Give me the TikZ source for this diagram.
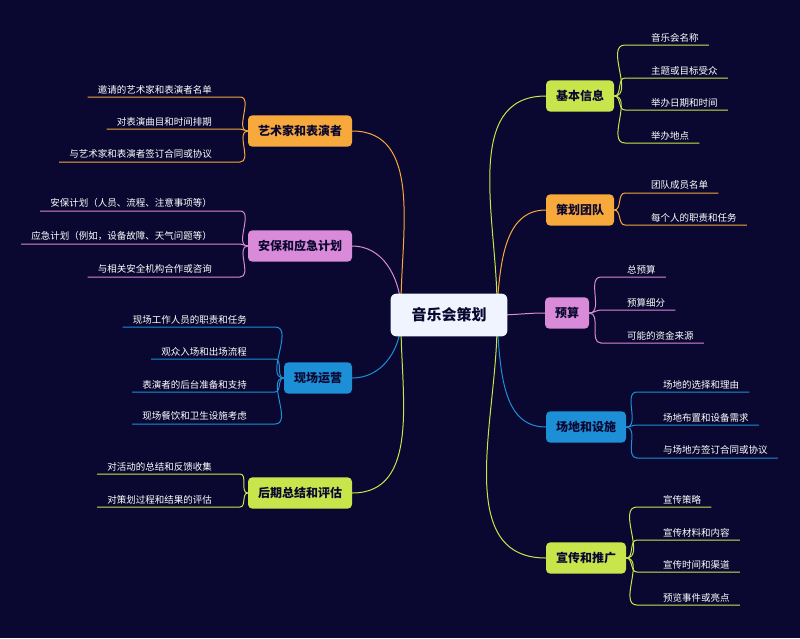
\documentclass[tikz,border=0pt]{standalone}
\usepackage{fontspec}
\setmainfont{Noto Sans CJK SC}
\definecolor{mapBg}{HTML}{0A0830}
\definecolor{mapCore}{HTML}{F0F4FF}
\definecolor{mapLime}{HTML}{C8E64C}
\definecolor{mapOrange}{HTML}{F8A93B}
\definecolor{mapPink}{HTML}{D98AD8}
\definecolor{mapBlue}{HTML}{1C8FD6}
\usetikzlibrary{positioning,calc,backgrounds}
\tikzset{
    core/.style={
        fill=mapCore,
        rectangle,
        rounded corners=2mm,
        minimum height=1.5cm,
        minimum width=4.1cm,
        font=\fontsize{15}{17}\selectfont\bfseries,
        text=mapBg
    },
    topic/.style={
        rectangle,
        rounded corners=1.5mm,
        minimum height=1.1cm,
        inner xsep=10pt,
        font=\fontsize{12}{14}\selectfont\bfseries,
        text=mapBg
    },
    leaf/.style={
        inner xsep=10pt,
        inner ysep=3pt,
        font=\fontsize{9.5}{11}\selectfont,
        text=white
    },
    link/.style={line width=1pt}
}
\begin{document}
\begin{tikzpicture}[x=1pt,y=-1pt]
    % Central topic
    \node[core] (plan) at (449,315) {音乐会策划};

    % Right topics
    \node[topic, fill=mapLime] (info) at (580,96) {基本信息};
    \node[topic, fill=mapOrange] (team) at (580,210) {策划团队};
    \node[topic, fill=mapPink] (budget) at (567,313) {预算};
    \node[topic, fill=mapBlue] (venue) at (586,427) {场地和设施};
    \node[topic, fill=mapLime] (promo) at (586,558) {宣传和推广};

    % Left topics
    \node[topic, fill=mapOrange] (artist) at (300,131) {艺术家和表演者};
    \node[topic, fill=mapPink] (safety) at (300,246) {安保和应急计划};
    \node[topic, fill=mapBlue] (onsite) at (318,378) {现场运营};
    \node[topic, fill=mapLime] (review) at (300,493) {后期总结和评估};

    % Links from the central topic
    \begin{scope}[on background layer]
    \fill[mapBg] (0,0) rectangle (800,638);
    \draw[link, mapLime] (497,305) to[out=90, in=180] (info.west);
    \draw[link, mapOrange] (497,305) to[out=85, in=180] (team.west);
    \draw[link, mapPink] (497,315) to[out=0, in=180] (budget.west);
    \draw[link, mapBlue] (497,325) to[out=-85, in=180] (venue.west);
    \draw[link, mapLime] (497,325) to[out=-90, in=180] (promo.west);
    \draw[link, mapOrange] (401,305) to[out=90, in=0] (artist.east);
    \draw[link, mapPink] (401,305) to[out=95, in=0] (safety.east);
    \draw[link, mapBlue] (401,325) to[out=-95, in=0] (onsite.east);
    \draw[link, mapLime] (401,325) to[out=-90, in=0] (review.east);
    \end{scope}

    % Right leaves
    \foreach \y/\t [count=\i] in {36/音乐会名称, 69/主题或目标受众, 101/举办日期和时间, 134/举办地点} {
        \node[leaf, anchor=south west] (info\i) at (641,\y+9) {\t};
        \draw[link, mapLime] (info.east) to[out=0, in=180] ($(info\i.south west)+(-16,0)$) -- (info\i.south east);
    }
    \foreach \y/\t [count=\i] in {184/团队成员名单, 216/每个人的职责和任务} {
        \node[leaf, anchor=south west] (team\i) at (641,\y+9) {\t};
        \draw[link, mapOrange] (team.east) to[out=0, in=180] ($(team\i.south west)+(-16,0)$) -- (team\i.south east);
    }
    \foreach \y/\t [count=\i] in {268/总预算, 301/预算细分, 334/可能的资金来源} {
        \node[leaf, anchor=south west] (budget\i) at (617,\y+9) {\t};
        \draw[link, mapPink] (budget.east) to[out=0, in=180] ($(budget\i.south west)+(-16,0)$) -- (budget\i.south east);
    }
    \foreach \y/\t [count=\i] in {383/场地的选择和理由, 416/场地布置和设备需求, 449/与场地方签订合同或协议} {
        \node[leaf, anchor=south west] (venue\i) at (653,\y+9) {\t};
        \draw[link, mapBlue] (venue.east) to[out=0, in=180] ($(venue\i.south west)+(-16,0)$) -- (venue\i.south east);
    }
    \foreach \y/\t [count=\i] in {498/宣传策略, 531/宣传材料和内容, 563/宣传时间和渠道, 596/预览事件或亮点} {
        \node[leaf, anchor=south west] (promo\i) at (653,\y+9) {\t};
        \draw[link, mapLime] (promo.east) to[out=0, in=180] ($(promo\i.south west)+(-16,0)$) -- (promo\i.south east);
    }

    % Left leaves
    \foreach \y/\t [count=\i] in {88/邀请的艺术家和表演者名单, 120/对表演曲目和时间排期, 153/与艺术家和表演者签订合同或协议} {
        \node[leaf, anchor=south east] (artist\i) at (222,\y+9) {\t};
        \draw[link, mapOrange] (artist.west) to[out=180, in=0] ($(artist\i.south east)+(18,0)$) -- (artist\i.south west);
    }
    \foreach \y/\t [count=\i] in {202/安保计划（人员、流程、注意事项等）, 235/应急计划（例如，设备故障、天气问题等）, 268/与相关安全机构合作或咨询} {
        \node[leaf, anchor=south east] (safety\i) at (222,\y+9) {\t};
        \draw[link, mapPink] (safety.west) to[out=180, in=0] ($(safety\i.south east)+(18,0)$) -- (safety\i.south west);
    }
    \foreach \y/\t [count=\i] in {318/现场工作人员的职责和任务, 350/观众入场和出场流程, 383/表演者的后台准备和支持, 415/现场餐饮和卫生设施考虑} {
        \node[leaf, anchor=south east] (onsite\i) at (257,\y+9) {\t};
        \draw[link, mapBlue] (onsite.west) to[out=180, in=0] ($(onsite\i.south east)+(18,0)$) -- (onsite\i.south west);
    }
    \foreach \y/\t [count=\i] in {465/对活动的总结和反馈收集, 498/对策划过程和结果的评估} {
        \node[leaf, anchor=south east] (review\i) at (222,\y+9) {\t};
        \draw[link, mapLime] (review.west) to[out=180, in=0] ($(review\i.south east)+(18,0)$) -- (review\i.south west);
    }
\end{tikzpicture}
\end{document}
